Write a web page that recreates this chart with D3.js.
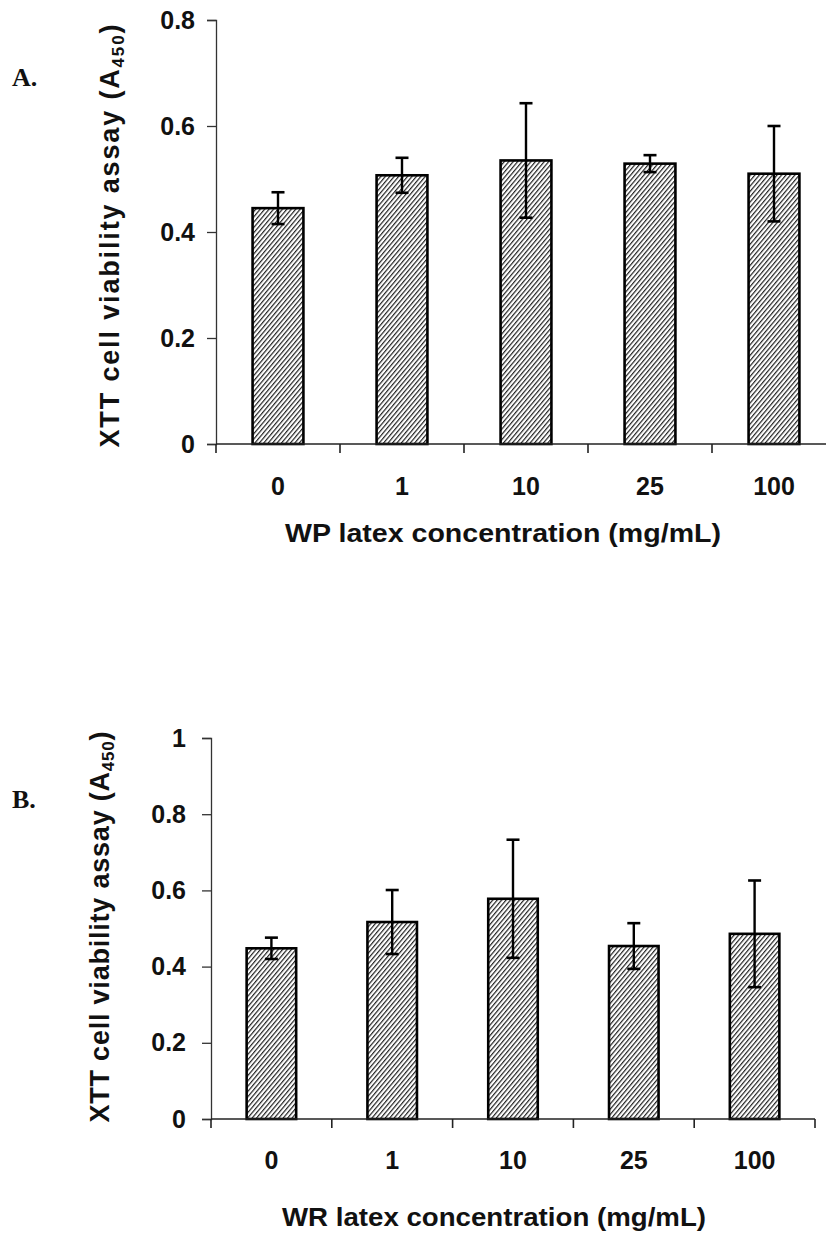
<!DOCTYPE html>
<html>
<head>
<meta charset="utf-8">
<script src="https://cdn.jsdelivr.net/npm/d3@7"></script>
<style>
  body { margin: 0; background: #fff; }
  svg { display: block; }
  text { font-family: "Liberation Sans", Arial, sans-serif; fill: #111; }
</style>
</head>
<body>
<svg id="chart" width="826" height="1236"></svg>
<script>
// concentrations (mg/mL)
const categories = ["0", "1", "10", "25", "100"];

// panel A: WP latex
const wpMeans = [0.445, 0.507, 0.535, 0.529, 0.510];
const wpErrors = [0.030, 0.033, 0.108, 0.016, 0.090];
const wpTicks = [0, 0.2, 0.4, 0.6, 0.8];

// panel B: WR latex
const wrMeans = [0.448, 0.517, 0.578, 0.454, 0.486];
const wrErrors = [0.028, 0.084, 0.155, 0.060, 0.140];
const wrTicks = [0, 0.2, 0.4, 0.6, 0.8, 1];

const svg = d3.select("#chart");

// diagonal hatch used for all bars
const defs = svg.append("defs");
const pat = defs.append("pattern")
    .attr("id", "hatch")
    .attr("patternUnits", "userSpaceOnUse")
    .attr("width", 3.4)
    .attr("height", 3.4)
    .attr("patternTransform", "rotate(40)");
pat.append("rect").attr("width", 3.4).attr("height", 3.4).attr("fill", "#fff");
pat.append("line")
    .attr("x1", 0).attr("y1", 0).attr("x2", 0).attr("y2", 3.4)
    .attr("stroke", "#222").attr("stroke-width", 2.4);

function drawPanel(opt) {
    const g = svg.append("g");

    const y = d3.scaleLinear()
        .domain([0, d3.max(opt.ticks)])
        .range([opt.bottom, opt.top]);
    const x = d3.scaleBand()
        .domain(categories)
        .range([opt.left, opt.left + opt.step * categories.length])
        .paddingInner(0.59)
        .paddingOuter(0.295);

    // y axis
    const yAxis = g.append("g")
        .attr("transform", `translate(${opt.left},0)`)
        .call(d3.axisLeft(y).tickValues(opt.ticks).tickSize(9).tickPadding(opt.yPad)
            .tickFormat(d => String(+d.toFixed(1))));
    yAxis.select(".domain").attr("stroke", "#333").attr("stroke-width", 1.3);
    yAxis.selectAll(".tick line").attr("stroke", "#333").attr("stroke-width", 1.3);
    yAxis.selectAll(".tick text")
        .attr("font-size", opt.yFont)
        .attr("font-weight", "bold")
        .style("font-family", "Liberation Sans, Arial, sans-serif")
        .attr("fill", "#111");

    // bars
    g.selectAll("rect.bar")
        .data(opt.means)
        .join("rect")
        .attr("class", "bar")
        .attr("x", (d, i) => x(categories[i]))
        .attr("y", d => y(d))
        .attr("width", x.bandwidth())
        .attr("height", d => y(0) - y(d))
        .attr("fill", "url(#hatch)")
        .attr("stroke", "#000")
        .attr("stroke-width", 2.6);

    // x axis line with ticks between categories
    g.append("line")
        .attr("x1", opt.left).attr("x2", opt.left + opt.step * categories.length)
        .attr("y1", y(0)).attr("y2", y(0))
        .attr("stroke", "#222").attr("stroke-width", 1.6);
    const bounds = d3.range(categories.length + 1).map(i => opt.left + i * opt.step);
    g.selectAll("line.xtick")
        .data(bounds)
        .join("line")
        .attr("class", "xtick")
        .attr("x1", d => d).attr("x2", d => d)
        .attr("y1", y(0)).attr("y2", y(0) + 9)
        .attr("stroke", "#222").attr("stroke-width", 1.6);

    g.selectAll("text.xlab")
        .data(categories)
        .join("text")
        .attr("class", "xlab")
        .attr("x", d => x(d) + x.bandwidth() / 2)
        .attr("y", opt.xLabelY)
        .attr("text-anchor", "middle")
        .attr("font-size", opt.xFont)
        .attr("font-weight", "bold")
        .text(d => d);

    // error bars
    const eb = g.selectAll("g.err")
        .data(opt.means)
        .join("g")
        .attr("class", "err");
    eb.append("line")
        .attr("x1", (d, i) => x(categories[i]) + x.bandwidth() / 2)
        .attr("x2", (d, i) => x(categories[i]) + x.bandwidth() / 2)
        .attr("y1", (d, i) => y(d + opt.errors[i]))
        .attr("y2", (d, i) => y(d - opt.errors[i]))
        .attr("stroke", "#000").attr("stroke-width", 2.4);
    [1, -1].forEach(s => {
        eb.append("line")
            .attr("x1", (d, i) => x(categories[i]) + x.bandwidth() / 2 - 6.5)
            .attr("x2", (d, i) => x(categories[i]) + x.bandwidth() / 2 + 6.5)
            .attr("y1", (d, i) => y(d + s * opt.errors[i]))
            .attr("y2", (d, i) => y(d + s * opt.errors[i]))
            .attr("stroke", "#000").attr("stroke-width", 2.6);
    });

    // axis titles
    g.append("text")
        .attr("x", opt.xTitleX)
        .attr("y", opt.xTitleY)
        .attr("text-anchor", "middle")
        .attr("font-size", 26)
        .attr("font-weight", "bold")
        .attr("textLength", opt.xTitleLen)
        .attr("lengthAdjust", "spacingAndGlyphs")
        .text(opt.xTitle);

    const yt = g.append("text")
        .attr("transform", `translate(${opt.yTitleX},${opt.yTitleY}) rotate(-90)`)
        .attr("text-anchor", "middle")
        .attr("font-size", 27)
        .attr("font-weight", "bold")
        .attr("textLength", opt.yTitleLen)
        .attr("lengthAdjust", "spacing");
    yt.append("tspan").text("XTT cell viability assay (A");
    yt.append("tspan").attr("font-size", 17).attr("dy", 5).text("450");
    yt.append("tspan").attr("dy", -5).text(")");

    // panel letter
    g.append("text")
        .attr("x", 12)
        .attr("y", opt.letterY)
        .attr("font-size", 26)
        .attr("font-weight", "bold")
        .style("font-family", "Liberation Serif, 'Times New Roman', serif")
        .text(opt.letter);
}

drawPanel({
    means: wpMeans, errors: wpErrors, ticks: wpTicks,
    left: 216, step: 124, top: 20, bottom: 444,
    yFont: 25, yPad: 12, xFont: 25, xLabelY: 495,
    xTitle: "WP latex concentration (mg/mL)", xTitleX: 503, xTitleY: 542, xTitleLen: 436,
    yTitleX: 119, yTitleY: 236, yTitleLen: 423,
    letter: "A.", letterY: 86
});

drawPanel({
    means: wrMeans, errors: wrErrors, ticks: wrTicks,
    left: 211, step: 120.8, top: 738, bottom: 1119,
    yFont: 25, yPad: 16, xFont: 25, xLabelY: 1169,
    xTitle: "WR latex concentration (mg/mL)", xTitleX: 494, xTitleY: 1226, xTitleLen: 424,
    yTitleX: 109, yTitleY: 927, yTitleLen: 391,
    letter: "B.", letterY: 808
});
</script>
</body>
</html>
